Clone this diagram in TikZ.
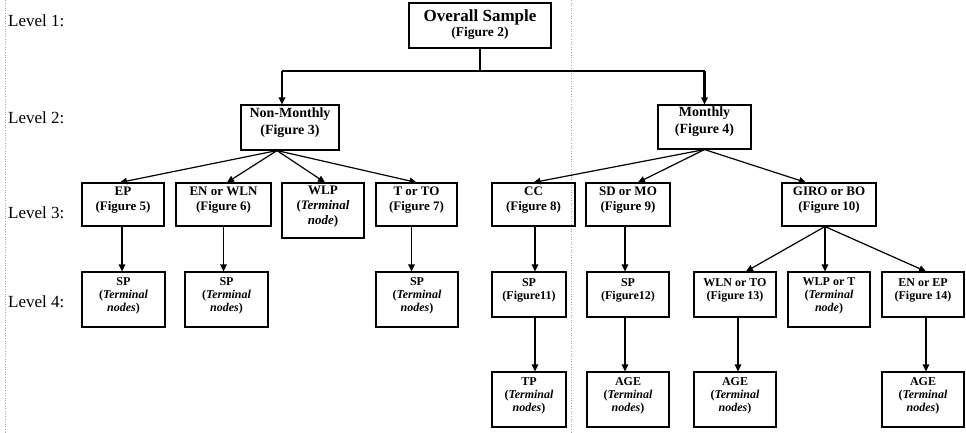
\documentclass[tikz,border=0pt]{standalone}
\usepackage{fontspec}
\setmainfont{Liberation Serif}
\usetikzlibrary{arrows.meta,fit}
\begin{document}
\begin{tikzpicture}[x=1pt,y=-1pt,
  box/.style={draw, line width=1.1pt, inner sep=0pt, align=center},
  lvtwo/.style={box, font=\fontsize{14}{17}\selectfont\bfseries},
  lvthree/.style={box, font=\fontsize{13}{15}\selectfont\bfseries},
  lvfour/.style={box, font=\fontsize{12}{12.8}\selectfont\bfseries},
  levellabel/.style={anchor=base west, inner sep=0pt, font=\fontsize{17}{18}\selectfont},
  conn/.style={line width=1.2pt, -{Triangle[length=7pt,width=6.5pt]}},
  thickconn/.style={line width=2.2pt},
  scanline/.style={draw=black!35, dotted, line width=0.6pt}
]
\useasboundingbox (0,0) rectangle (966,433);
\draw[scanline] (5,0) -- (5,433);
\draw[scanline] (571,0) -- (571,433);

% level labels
\node[levellabel] (L1) at (8,27) {Level 1:};
\node[levellabel] (L2) at (8,124) {Level 2:};
\node[levellabel] (L3) at (8,218) {Level 3:};
\node[levellabel] (L4) at (8,307) {Level 4:};

% level 1
\node[box, fit={(409,3) (551,48)}] (ov) {};
\node[inner sep=0pt, align=center, font=\bfseries] (ovt) at ([yshift=1pt]ov.center)
  {{\fontsize{17}{14}\selectfont Overall Sample}\\[1pt]{\fontsize{13.5}{14}\selectfont (Figure 2)}};

% level 2
\node[lvtwo, fit={(241,105) (339,150)}] (nm) {Non-Monthly\\(Figure 3)};
\node[lvtwo, fit={(658,105) (751,149)}] (mo) {Monthly\\(Figure 4)};

% level 3
\node[lvthree, fit={(82,183) (164,226)}] (ep) {EP\\(Figure 5)};
\node[lvthree, fit={(176,183) (271,226)}] (enw) {EN or WLN\\(Figure 6)};
\node[lvthree, fit={(282,183) (364,238)}] (wlp) {WLP\\(\textit{Terminal}\\\textit{node})};
\node[lvthree, fit={(376,183) (457,226)}] (tto) {T or TO\\(Figure 7)};
\node[lvthree, fit={(492,183) (575,226)}] (cc) {CC\\(Figure 8)};
\node[lvthree, fit={(586,183) (670,226)}] (sd) {SD or MO\\(Figure 9)};
\node[lvthree, fit={(782,183) (876,226)}] (giro) {GIRO or BO\\(Figure 10)};

% level 4
\node[lvfour, fit={(82,272) (165,327)}] (spa) {SP\\(\textit{Terminal}\\\textit{nodes})};
\node[lvfour, fit={(185,272) (268,327)}] (spb) {SP\\(\textit{Terminal}\\\textit{nodes})};
\node[lvfour, fit={(376,272) (458,327)}] (spc) {SP\\(\textit{Terminal}\\\textit{nodes})};
\node[lvfour, fit={(492,272) (566,317)}] (spk) {SP\\(Figure11)};
\node[lvfour, fit={(587,272) (669,317)}] (spl) {SP\\(Figure12)};
\node[lvfour, fit={(694,272) (776,317)}] (wto) {WLN or TO\\(Figure 13)};
\node[lvfour, fit={(788,272) (870,327)}] (wpt) {WLP or T\\(\textit{Terminal}\\\textit{node})};
\node[lvfour, fit={(882,272) (964,317)}] (ene) {EN or EP\\(Figure 14)};

% level 5
\node[lvfour, fit={(492,372) (566,427)}] (tp) {TP\\(\textit{Terminal}\\\textit{nodes})};
\node[lvfour, fit={(587,372) (669,427)}] (agea) {AGE\\(\textit{Terminal}\\\textit{nodes})};
\node[lvfour, fit={(694,372) (776,427)}] (ageb) {AGE\\(\textit{Terminal}\\\textit{nodes})};
\node[lvfour, fit={(882,372) (964,427)}] (agec) {AGE\\(\textit{Terminal}\\\textit{nodes})};

% level 1 -> 2
\coordinate (j) at (480,71);
\draw[thickconn] (ov.south) -- (j);
\draw[thickconn] ([xshift=-8pt]nm.north |- j) -- (mo.north |- j);
\draw[conn, line width=2.2pt] ([xshift=-8pt]nm.north |- j) -- ([xshift=-8pt]nm.north);
\draw[conn, line width=2.2pt] (mo.north |- j) -- (mo.north);

% level 2 -> 3
\draw[conn] ([xshift=-13pt]nm.south) -- ([xshift=-3pt]ep.north);
\draw[conn] ([xshift=-13pt]nm.south) -- ([xshift=3.5pt]enw.north);
\draw[conn] ([xshift=-13pt]nm.south) -- ([xshift=2pt]wlp.north);
\draw[conn] ([xshift=-13pt]nm.south) -- (tto.north);
\draw[conn] (mo.south) -- (cc.north);
\draw[conn] (mo.south) -- ([xshift=10pt]sd.north);
\draw[conn] (mo.south) -- ([xshift=-23pt]giro.north);

% level 3 -> 4
\draw[conn] ([xshift=-1pt]ep.south) -- ([xshift=-1pt]ep.south |- spa.north);
\draw[conn] (enw.south) -- (enw.south |- spb.north);
\draw[conn] ([xshift=-5pt]tto.south) -- ([xshift=-5pt]tto.south |- spc.north);
\draw[conn] ([xshift=1.5pt]cc.south) -- ([xshift=1.5pt]cc.south |- spk.north);
\draw[conn] ([xshift=-3pt]sd.south) -- ([xshift=-3pt]sd.south |- spl.north);
\draw[conn] ([xshift=-4pt]giro.south) -- ([xshift=11pt]wto.north);
\draw[conn] ([xshift=-4pt]giro.south) -- ([xshift=-4pt]wpt.north);
\draw[conn] ([xshift=-4pt]giro.south) -- ([xshift=3pt]ene.north);

% level 4 -> 5
\draw[conn] ([xshift=6pt]spk.south) -- ([xshift=6pt]spk.south |- tp.north);
\draw[conn] ([xshift=-3pt]spl.south) -- ([xshift=-3pt]spl.south |- agea.north);
\draw[conn] ([xshift=3pt]wto.south) -- ([xshift=3pt]wto.south |- ageb.north);
\draw[conn] ([xshift=3pt]ene.south) -- ([xshift=3pt]ene.south |- agec.north);
\end{tikzpicture}
\end{document}
